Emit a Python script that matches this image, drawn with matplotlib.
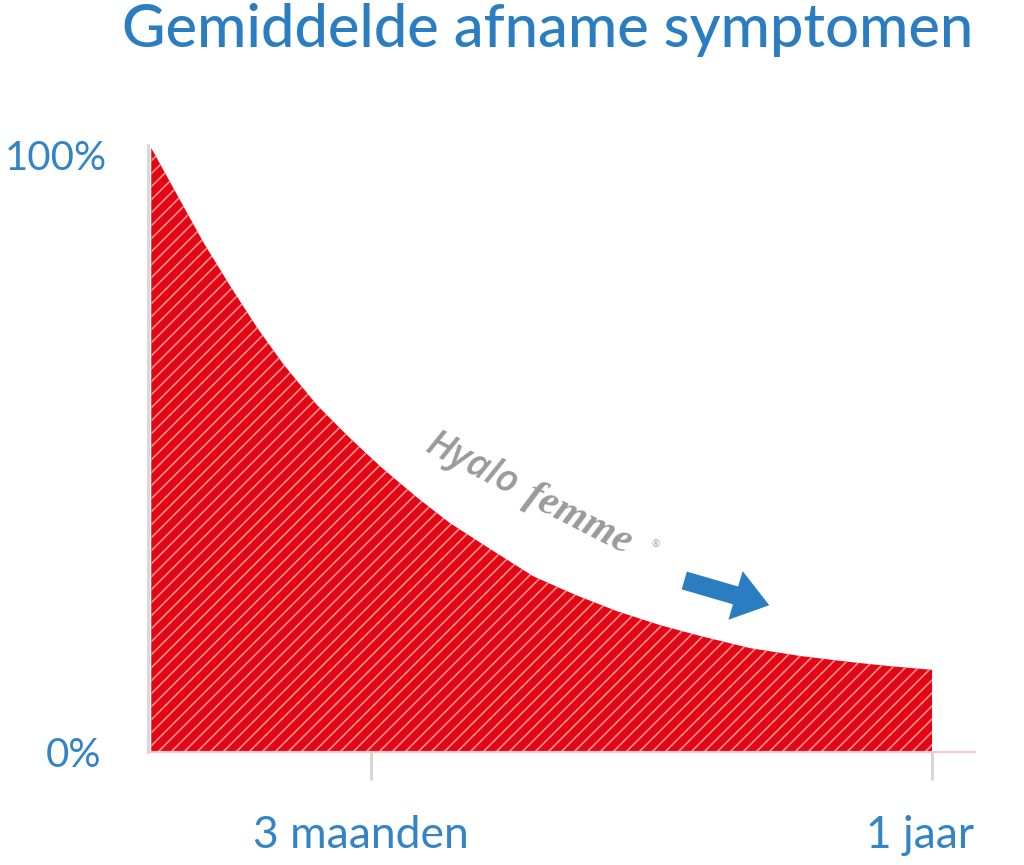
import matplotlib
matplotlib.use("Agg")
import matplotlib.pyplot as plt
from matplotlib.patches import FancyArrowPatch
from matplotlib.transforms import ScaledTranslation

# ---- data ----
months = [0.0, 0.40, 0.80, 1.21, 1.63, 2.03, 2.55, 3.06, 3.56, 4.09, 4.59,
          5.21, 5.87, 6.52, 7.16, 7.82, 8.44, 9.20, 9.97, 10.74, 11.36, 12.0]
symptoms = [100.0, 92.2, 84.4, 77.2, 70.2, 64.2, 57.4, 51.9, 46.9, 42.1, 37.9,
            33.6, 29.1, 26.0, 23.3, 21.0, 19.2, 17.2, 15.9, 14.9, 14.2, 13.6]
x_ticks = [3.37, 12.0]
x_labels = ["3 maanden", "1 jaar"]
y_ticks = [0, 100]
y_labels = ["0%", "100%"]
title = "Gemiddelde afname symptomen"
brand_parts = ["Hyalo", "femme", "®"]
arrow_start = (8.16, 28.5)
arrow_end = (9.53, 24.2)

DPI = 78
BLUE = "#2b7dc2"
LABEL_BLUE = "#3384c6"
RED = "#e30613"
GREY = "#9a9a9a"

plt.rcParams['font.family'] = ['Lato', 'DejaVu Sans']
plt.rcParams['hatch.linewidth'] = 1.6

fig = plt.figure(figsize=(1024 / DPI, 865 / DPI), dpi=DPI)
ax = fig.add_axes([148 / 1024, 113 / 865, 827 / 1024, 607 / 865])

ax.fill_between(months, symptoms, 0, facecolor=RED, edgecolor="#f58a90",
                hatch="//", linewidth=0, zorder=2)

ax.set_xlim(-0.05, 12.66)
ax.set_ylim(0, 100.5)

for s in ["top", "right"]:
    ax.spines[s].set_visible(False)
ax.spines["left"].set_color("#d9d9d9")
ax.spines["left"].set_linewidth(2.8)
ax.spines["bottom"].set_color("#f6c9cc")
ax.spines["bottom"].set_linewidth(2.0)

ax.set_xticks(x_ticks)
ax.set_xticklabels(x_labels, color=LABEL_BLUE, fontsize=41, fontweight="normal")
ax.tick_params(axis="x", length=26, width=2.8, color="#d6d6d6", pad=32)
lbls = ax.get_xticklabels()
lbls[0].set_transform(lbls[0].get_transform() + ScaledTranslation(-10 / DPI, 0, fig.dpi_scale_trans))
lbls[1].set_transform(lbls[1].get_transform() + ScaledTranslation(-12 / DPI, 0, fig.dpi_scale_trans))

ax.set_yticks(y_ticks)
ax.set_yticklabels(y_labels, color=LABEL_BLUE, fontsize=37, fontweight="normal")
ax.tick_params(axis="y", length=0, pad=38)
ylb = ax.get_yticklabels()
ylb[1].set_transform(ylb[1].get_transform() + ScaledTranslation(0, -7 / DPI, fig.dpi_scale_trans))
ylb[0].set_transform(ylb[0].get_transform() + ScaledTranslation(-6 / DPI, 0, fig.dpi_scale_trans))

fig.text(0.535, 1 - 30 / 865, title, ha="center", va="center",
         color=BLUE, fontsize=55, fontweight="medium")

# brand text along the curve
ax.text((472 - 151) / 65.08, (752 - 464) / 6.04, brand_parts[0],
        rotation=-27, rotation_mode="anchor", ha="center", va="center",
        color=GREY, fontsize=35, fontweight="semibold", fontstyle="italic",
        family=["Open Sans", "DejaVu Sans"])
ax.text((578 - 151) / 65.08, (752 - 519) / 6.04, brand_parts[1],
        rotation=-27, rotation_mode="anchor", ha="center", va="center",
        color=GREY, fontsize=38, fontweight="bold", fontstyle="italic",
        family=["Liberation Serif", "DejaVu Serif"])
ax.text((655 - 151) / 65.08, (752 - 545) / 6.04, brand_parts[2],
        ha="center", va="center", color=GREY, fontsize=9)

arrow = FancyArrowPatch(arrow_start, arrow_end,
                        arrowstyle="simple,head_width=2.6,head_length=1.8,tail_width=0.95",
                        mutation_scale=18, color=BLUE, linewidth=0, zorder=3)
ax.add_patch(arrow)

fig.savefig("out.png", dpi=DPI, facecolor="white")
